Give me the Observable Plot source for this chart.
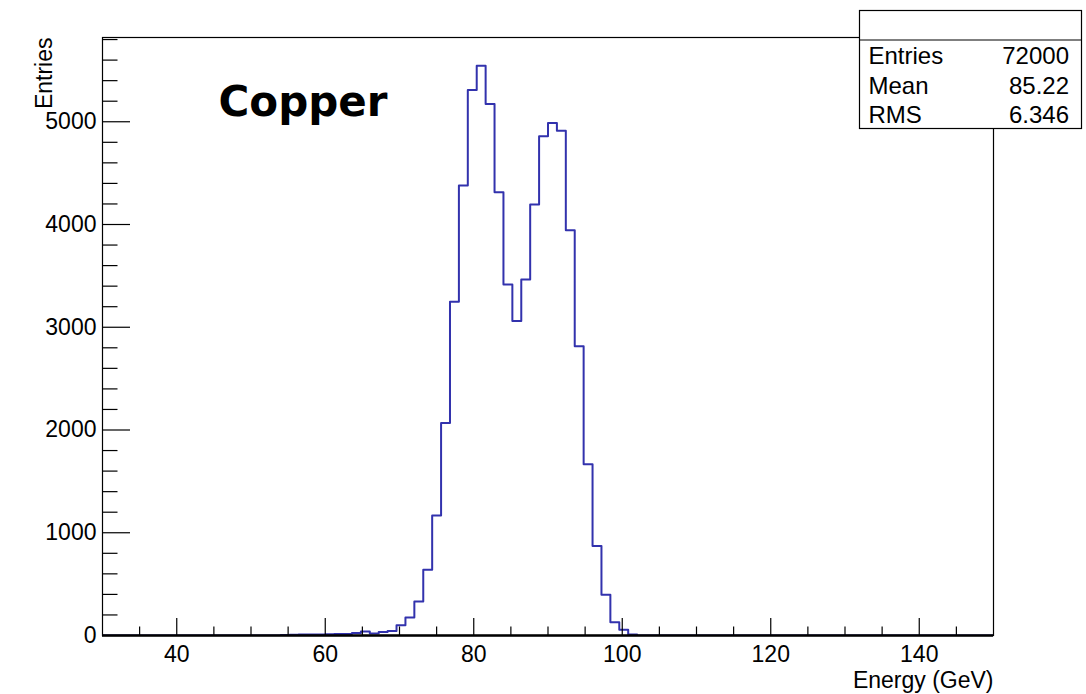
<!DOCTYPE html>
<html>
<head>
<meta charset="utf-8">
<script src="https://cdn.jsdelivr.net/npm/d3@7"></script>
<script src="https://cdn.jsdelivr.net/npm/@observablehq/plot@0.6"></script>
<style>
html, body { margin: 0; padding: 0; background: #fff; }
#chart { width: 1086px; height: 694px; }
</style>
</head>
<body>
<div id="chart"></div>
<script>
// Histogram definition: 100 bins from 30 to 150 GeV (bin width 1.2)
const xMin = 30, xMax = 150, binWidth = 1.2;
const counts = [
  0,0,0,0,0,0,0,0,0,0,
  0,0,0,0,0,0,0,0,0,0,
  6,8,9,10,10,12,14,15,25,40,
  20,33,45,100,175,331,640,1169,2068,3247,
  4380,5310,5545,5172,4315,3416,3062,3465,4195,4860,
  4987,4912,3945,2815,1666,870,396,130,55,10,
  0,0,0,0,0,0,0,0,0,0,
  0,0,0,0,0,0,0,0,0,0,
  0,0,0,0,0,0,0,0,0,0,
  0,0,0,0,0,0,0,0,0,0
];
const yMax = 5820;
const xMajorTicks = [40, 60, 80, 100, 120, 140];
const xMinorTicks = [35, 45, 50, 55, 65, 70, 75, 85, 90, 95, 105, 110, 115, 125, 130, 135, 145];
const yMajorTicks = [0, 1000, 2000, 3000, 4000, 5000];
const yMinorTicks = [200, 400, 600, 800, 1200, 1400, 1600, 1800, 2200, 2400, 2600, 2800,
                     3200, 3400, 3600, 3800, 4200, 4400, 4600, 4800, 5200, 5400, 5600, 5800];
const titleText = "Copper";
const xLabel = "Energy (GeV)";
const yLabel = "Entries";
const statsLabels = ["Entries", "Mean", "RMS"];
const statsValues = ["72000", "85.22", "6.346"];

// Step outline points (left edge of each bin, plus closing right edge)
const steps = counts.map((c, i) => ({x: xMin + i * binWidth, y: c}));
steps.push({x: xMax, y: counts[counts.length - 1]});

const W = 1086, H = 694, mL = 102, mR = 93, mT = 37, mB = 59;
const fw = W - mL - mR, fh = H - mT - mB;
const font = "'Liberation Sans', Arial, Helvetica, sans-serif";

const plot = Plot.plot({
  width: W, height: H,
  marginLeft: mL, marginRight: mR, marginTop: mT, marginBottom: mB,
  style: {fontFamily: font, fontSize: "23px", background: "white", color: "black", overflow: "visible"},
  x: {domain: [xMin, xMax], ticks: xMajorTicks, tickSize: 0, tickPadding: 10, tickFormat: d => String(d), label: null},
  y: {domain: [0, yMax], ticks: yMajorTicks, tickSize: 0, tickPadding: 6, tickFormat: d => String(d), label: null},
  marks: [
    Plot.lineY(steps, {x: "x", y: "y", curve: "step-after", stroke: "#3232ad", strokeWidth: 2, clip: true}),
    Plot.ruleY([0], {stroke: "black", strokeWidth: 2.4}),
    Plot.ruleX(xMajorTicks, {x: d => d, insetTop: fh - 17, stroke: "black", strokeWidth: 1.2}),
    Plot.ruleX(xMinorTicks, {x: d => d, insetTop: fh - 8.5, stroke: "black", strokeWidth: 1.2}),
    Plot.ruleY(yMajorTicks, {y: d => d, insetRight: fw - 28, stroke: "black", strokeWidth: 1.2}),
    Plot.ruleY(yMinorTicks, {y: d => d, insetRight: fw - 15.5, stroke: "black", strokeWidth: 1.2}),
    Plot.frame({stroke: "black", strokeWidth: 1.2}),
    Plot.text([xLabel], {frameAnchor: "bottom-right", dy: 52, lineAnchor: "bottom", textAnchor: "end", fontSize: 23}),
    Plot.text([yLabel], {frameAnchor: "top-left", dx: -67, rotate: -90, textAnchor: "end", fontSize: 23}),
    Plot.text([titleText], {frameAnchor: "top-left", dx: 116, dy: 78, lineAnchor: "bottom", textAnchor: "start",
      fontSize: 42, fontWeight: "bold", fontFamily: "'DejaVu Sans', sans-serif"})
  ]
});

document.getElementById("chart").appendChild(plot);

// Statistics box (ROOT-style), drawn on top of the frame
const svg = d3.select(plot);
const box = {x: 859.5, y: 10.5, w: 222, h: 118, divider: 40};
const g = svg.append("g").attr("font-family", font).attr("font-size", 24).attr("fill", "black");
g.append("rect").attr("x", box.x).attr("y", box.y).attr("width", box.w).attr("height", box.h)
  .attr("fill", "white").attr("stroke", "black").attr("stroke-width", 1.2);
g.append("line").attr("x1", box.x).attr("x2", box.x + box.w).attr("y1", box.divider).attr("y2", box.divider)
  .attr("stroke", "black").attr("stroke-width", 1.2);
const baselines = [64, 94, 123];
statsLabels.forEach((lab, i) => {
  g.append("text").attr("x", box.x + 9).attr("y", baselines[i]).attr("text-anchor", "start").text(lab);
  g.append("text").attr("x", box.x + box.w - 12.5).attr("y", baselines[i]).attr("text-anchor", "end").text(statsValues[i]);
});
</script>
</body>
</html>
